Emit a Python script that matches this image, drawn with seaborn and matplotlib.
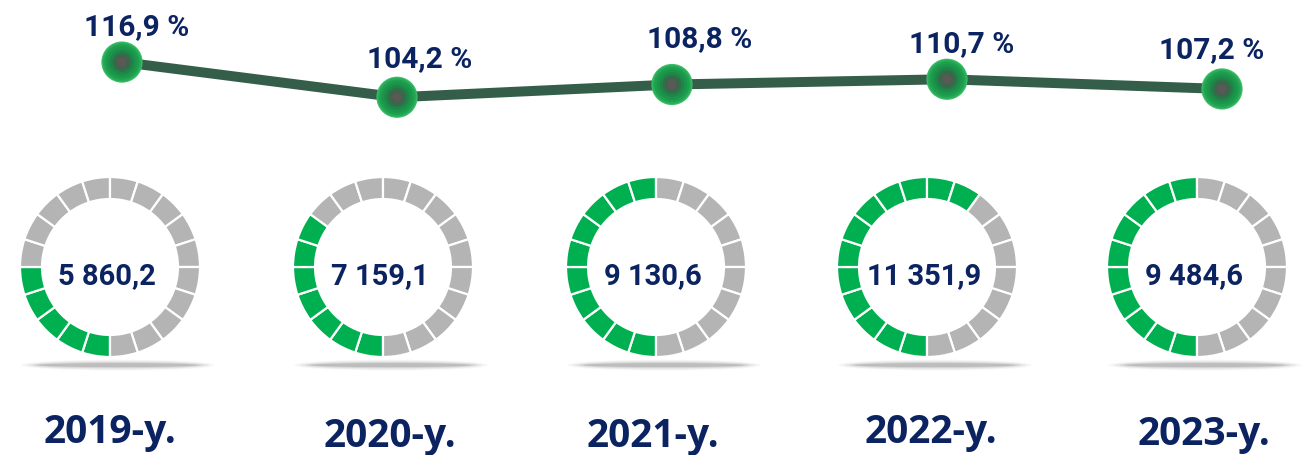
import numpy as np
import pandas as pd
import matplotlib
matplotlib.use("Agg")
import matplotlib.pyplot as plt
from matplotlib.patches import Ellipse
import seaborn as sns

# data
years = ["2019-y.", "2020-y.", "2021-y.", "2022-y.", "2023-y."]
growth_pct = [116.9, 104.2, 108.8, 110.7, 107.2]
growth_labels = ["116,9 %", "104,2 %", "108,8 %", "110,7 %", "107,2 %"]
volume_labels = ["5 860,2", "7 159,1", "9 130,6", "11 351,9", "9 484,6"]
filled_segments = [5, 7, 10, 12, 10]
n_segments = 20

# colours
navy = "#0b2461"
line_green = "#355e4a"
seg_green = "#00b050"
seg_grey = "#b4b4b4"

W, H = 1308, 455
sns.set_theme(style="white")
plt.rcParams["font.family"] = ["Roboto", "DejaVu Sans"]

fig = plt.figure(figsize=(W / 100, H / 100), dpi=100)

# main axes over whole figure for the growth line
ax = fig.add_axes([0, 0, 1, 1])
ax.set_xlim(-122 / 275, (W - 122) / 275)
ax.set_ylim(-24.95, 139.31)
ax.axis("off")

df = pd.DataFrame({"idx": np.arange(len(years)), "pct": growth_pct})
sns.lineplot(data=df, x="idx", y="pct", ax=ax, color=line_green, linewidth=7.2,
             zorder=2, legend=False)
# layered scatter to fake the glossy green balls
ball_layers = [(880, "#3dbd68"), (780, "#27ac58"), (640, "#1e9f4e"), (480, "#1b954b"),
               (320, "#1d8747"), (190, "#2f7048"), (100, "#45604f"), (40, "#5a5a55")]
for s, c in ball_layers:
    sns.scatterplot(data=df, x="idx", y="pct", ax=ax, s=s, color=c, edgecolor="none",
                    linewidth=0, zorder=3, legend=False)

# percent labels (pixel offsets from the ball to the text baseline)
pct_offsets = [(15, 27), (23, 30), (28, 37), (15, 27), (-10, 31)]
for i, (lab, off) in enumerate(zip(growth_labels, pct_offsets)):
    ax.annotate(lab, (i, growth_pct[i]), xytext=off, textcoords="offset pixels",
                ha="center", va="baseline", fontsize=21.5, fontweight="bold", color=navy, zorder=4)
ax.set_xlabel("")
ax.set_ylabel("")

# segmented rings
ring_cx = [110, 383, 656, 927, 1197]
ring_cy = 267
R = 90
box = 125
for i, cx in enumerate(ring_cx):
    rax = fig.add_axes([(cx - box) / W, (H - ring_cy - box) / H, 2 * box / W, 2 * box / H])
    rax.patch.set_alpha(0)
    colors = [seg_green] * filled_segments[i] + [seg_grey] * (n_segments - filled_segments[i])
    rax.pie([1] * n_segments, colors=colors, startangle=270, counterclock=False, radius=1,
            wedgeprops=dict(width=0.245, edgecolor="white", linewidth=1.6))
    rax.set_xlim(-box / R, box / R)
    rax.set_ylim(-box / R, box / R)
    rax.set_aspect("equal")
    rax.axis("off")
    # soft shadow under the ring
    for k, a in enumerate([0.05, 0.08, 0.12, 0.2]):
        rax.add_patch(Ellipse((0.09, -1.09), 2.15 - 0.12 * k, 0.12 - 0.025 * k,
                              facecolor="#555555", edgecolor="none", alpha=a))
    rax.text(-0.03, -0.1, volume_labels[i], ha="center", va="center", fontsize=21,
             fontweight="bold", color=navy)

# year labels (baseline positions in pixels)
year_pos = [(110, 443), (390, 447), (653, 447), (931, 443), (1204, 445)]
for lab, (x, y) in zip(years, year_pos):
    fig.text(x / W, 1 - y / H, lab, ha="center", va="baseline", fontsize=28,
             fontweight="bold", color=navy, family=["Open Sans", "DejaVu Sans"])

fig.savefig("out.png", dpi=100)
